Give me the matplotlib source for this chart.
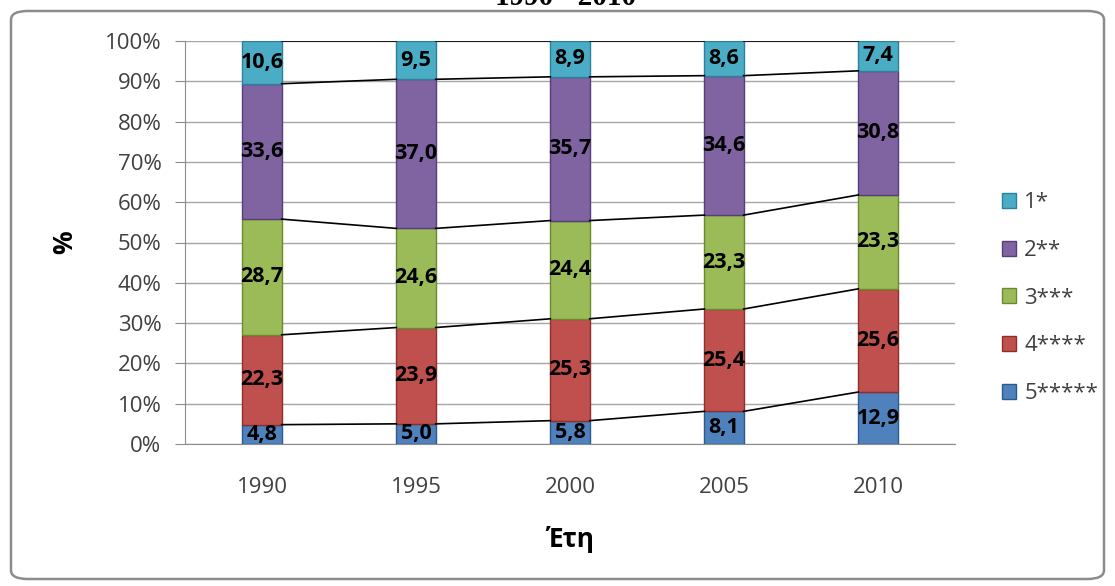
import numpy as np
import matplotlib.pyplot as plt
from matplotlib.patches import FancyBboxPatch

years = ["1990", "1995", "2000", "2005", "2010"]
series = ["5*****", "4****", "3***", "2**", "1*"]
s5 = [4.8, 5.0, 5.8, 8.1, 12.9]
s4 = [22.3, 23.9, 25.3, 25.4, 25.6]
s3 = [28.7, 24.6, 24.4, 23.3, 23.3]
s2 = [33.6, 37.0, 35.7, 34.6, 30.8]
s1 = [10.6, 9.5, 8.9, 8.6, 7.4]
colors = ["#4F81BD", "#C0504D", "#9BBB59", "#8064A2", "#4BACC6"]
edges = ["#2C5A8E", "#8E2F2C", "#6A8A30", "#553F78", "#2C8099"]

plt.rcParams['font.family'] = ['Open Sans', 'DejaVu Sans']

fig = plt.figure(figsize=(11.15, 5.86), dpi=100)
ax = fig.add_axes([185 / 1115, 1 - 444 / 586, 770 / 1115, 403 / 586])

# outer rounded frame
frame = FancyBboxPatch((11 / 1115, 7 / 586), 1093 / 1115, 568 / 586,
                       boxstyle="round,pad=0,rounding_size=0.015",
                       transform=fig.transFigure, fill=False,
                       edgecolor="#8C8C8C", linewidth=1.8, zorder=0)
fig.patches.append(frame)

fig.text(566 / 1115, 1 - 5 / 586, "1990 - 2010", ha="center", va="baseline",
         fontsize=21, fontweight="bold", family="Liberation Serif")

data = np.array([s5, s4, s3, s2, s1])
data = data / data.sum(axis=0) * 100
x = np.arange(len(years))
w = 0.255
bottom = np.zeros(len(years))
tops = []
handles = []
for vals, raw, name, c, ec in zip(data, [s5, s4, s3, s2, s1], series, colors, edges):
    b = ax.bar(x, vals, w, bottom=bottom, color=c, edgecolor=ec, linewidth=1.0,
               label=name, zorder=3)
    handles.append(b)
    for xi, v, bt, r in zip(x, vals, bottom, raw):
        ax.text(xi, bt + v / 2, f"{r:.1f}".replace(".", ","), ha="center",
                va="center", fontsize=15.5, fontweight="bold", color="black",
                zorder=5)
    bottom = bottom + vals
    tops.append(bottom.copy())

# series lines between bars
for t in tops:
    for i in range(len(years) - 1):
        ax.plot([x[i] + w / 2, x[i + 1] - w / 2], [t[i], t[i + 1]],
                color="black", linewidth=1.2, zorder=4)

ax.set_xlim(-0.5, len(years) - 0.5)
ax.set_ylim(0, 100)
ax.set_yticks(np.arange(0, 101, 10))
ax.set_yticklabels([f"{v}%" for v in range(0, 101, 10)])
ax.set_xticks(x)
ax.set_xticklabels(years)
ax.tick_params(axis="y", direction="out", length=7, color="#8C8C8C",
               labelsize=16, labelcolor="#404040", pad=10)
ax.tick_params(axis="x", length=0, labelsize=16, labelcolor="#404040", pad=24)
ax.grid(axis="y", color="#A6A6A6", linewidth=1, zorder=0)
for s in ["top", "right"]:
    ax.spines[s].set_visible(False)
ax.spines["left"].set_color("#8C8C8C")
ax.spines["bottom"].set_color("#8C8C8C")

ax.set_ylabel("%", fontsize=19, fontweight="bold", labelpad=19)
ax.set_xlabel("Έτη", fontsize=19, fontweight="bold", labelpad=20)

leg = ax.legend(handles[::-1], series[::-1], loc="center left",
                bbox_to_anchor=(1.035, 0.362), frameon=False, fontsize=16,
                handlelength=0.65, handleheight=0.65, labelspacing=1.2,
                handletextpad=0.35, labelcolor="#404040")

fig.savefig("out.png", dpi=100)
